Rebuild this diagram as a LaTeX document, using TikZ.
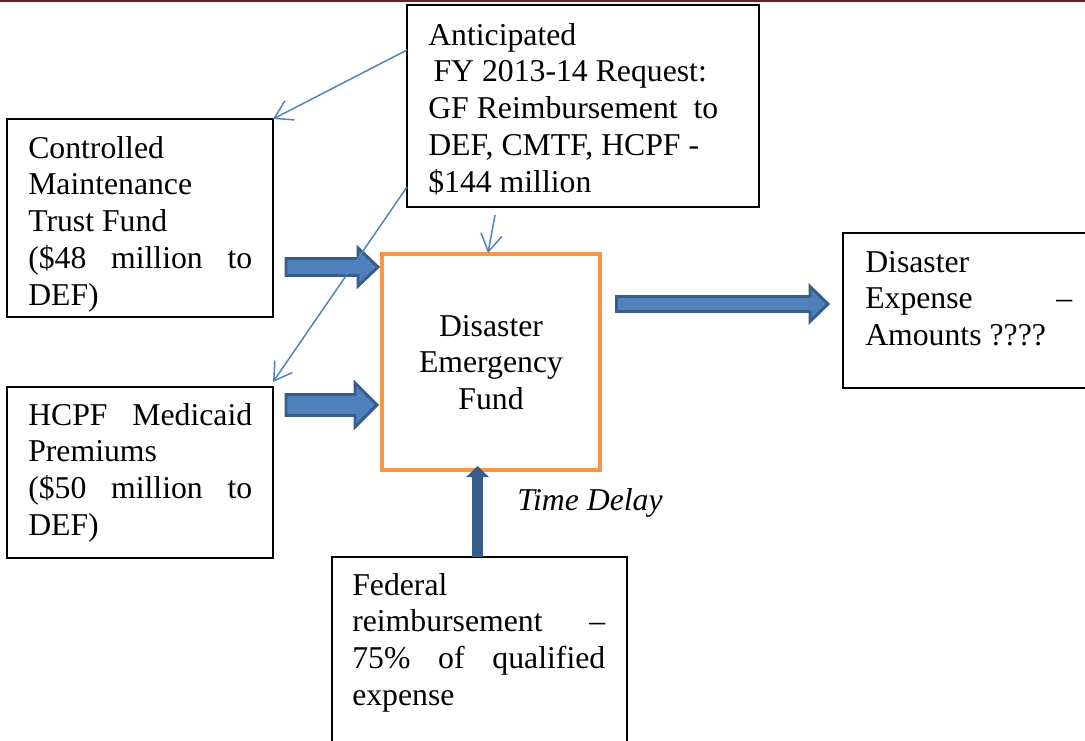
\documentclass[tikz,border=0pt]{standalone}
\usepackage{fontspec}
\setmainfont{Liberation Serif}
\usetikzlibrary{arrows.meta,calc}

\definecolor{accentblue}{HTML}{4F81BD}
\definecolor{darkblue}{HTML}{385D8A}
\definecolor{fundorange}{HTML}{F79646}
\definecolor{rulered}{HTML}{701E1E}

\tikzset{
  box/.style={draw=black, line width=0.8pt, inner sep=0pt, outer sep=0pt},
  fundbox/.style={draw=fundorange, line width=3pt, inner sep=0pt, outer sep=0pt},
  txt/.style={inner sep=0pt, font=\fontsize{23.8}{27.6}\selectfont},
  thinarrow/.style={draw=accentblue, line width=1.1pt, -{Straight Barb[length=13pt,width=16pt]}},
  blockarrow/.style={fill=accentblue, draw=darkblue, line width=2.2pt, line join=miter},
}

% start, shaft length, head length, half shaft, half head
\newcommand{\blockarr}[5]{%
  \draw[blockarrow] #1 ++(0,-#4) -- ++(#2,0) -- ++(0,{-(#5-#4)}) -- ++(#3,#5)
    -- ++(-#3,#5) -- ++(0,{-(#5-#4)}) -- ++(-#2,0) -- cycle;}

\begin{document}
\begin{tikzpicture}[x=0.75pt,y=-0.75pt]
  \useasboundingbox (0,0) rectangle (1085,740);
  \fill[rulered] (0,0) rectangle (1085,2);

  % boxes
  \node[box, minimum width=199.5pt, minimum height=148.5pt] (cmtf) at (140,218) {};
  \node[box, minimum width=199.5pt, minimum height=128.25pt] (hcpf) at (140,472.5) {};
  \node[box, minimum width=264pt, minimum height=151.5pt] (ant) at (583,106) {};
  \node[box, minimum width=187.5pt, minimum height=116.25pt] (exp) at (968,310.5) {};
  \node[box, minimum width=221.25pt, minimum height=159.75pt] (fed) at (479.5,663.5) {};
  \node[fundbox, minimum width=163.5pt, minimum height=162pt] (def) at (491,362) {};

  % texts
  \node[txt, anchor=base west] (cmtftext) at (28,158) {\parbox[t]{168pt}{%
    Controlled\\ Maintenance\\ Trust Fund\\ (\$48\hfill million\hfill to\\ DEF)}};
  \node[txt, anchor=base west] (hcpftext) at (28,425) {\parbox[t]{168pt}{%
    HCPF\hfill Medicaid\\ Premiums\\ (\$50\hfill million\hfill to\\ DEF)}};
  \node[txt, anchor=base west] (anttext) at (428,45) {\parbox[t]{240pt}{%
    Anticipated\\ \hspace*{4pt}FY 2013-14 Request:\\ GF Reimbursement\ \ to\\ DEF, CMTF, HCPF -\\ \$144 million}};
  \node[txt, anchor=base west] (exptext) at (865,272) {\parbox[t]{155.25pt}{%
    Disaster\\ Expense\hfill --\\ Amounts ????}};
  \node[txt, anchor=base west] (fedtext) at (352,595) {\parbox[t]{189.75pt}{%
    Federal\\ reimbursement\hfill --\\ 75\%\hfill of\hfill qualified\\ expense}};
  \node[txt, anchor=base] (deftext) at (491,336) {\parbox[t]{150pt}{\centering
    Disaster\\ Emergency\\ Fund}};
  \node[txt, anchor=base west] (delay) at (517,510) {\itshape Time Delay};

  % block arrows
  \blockarr{($(cmtf.east)+(13,49)$)}{72}{20}{8.5}{19}
  \blockarr{($(hcpf.east)+(13,-67.5)$)}{69}{22}{10.5}{22}
  \blockarr{($(def.east)+(16.5,-58)$)}{193.5}{18}{7.5}{17.5}
  \draw[darkblue, line width=8.25pt, -{Triangle[length=8.25pt,width=16.5pt]}]
    ($(fed.north)+(-2,0)$) -- ($(fed.north |- def.south)+(-2,-4)$);

  % thin arrows
  \draw[thinarrow] ($(ant.north west)+(0,45)$) -- (cmtf.north east);
  \draw[thinarrow] ($(ant.south west)+(0,-20)$) -- ($(hcpf.north east)+(0,-5)$);
  \draw[thinarrow] ($(ant.south west)+(88,8)$) -- ($(def.north)+(-3,-1)$);
\end{tikzpicture}
\end{document}
